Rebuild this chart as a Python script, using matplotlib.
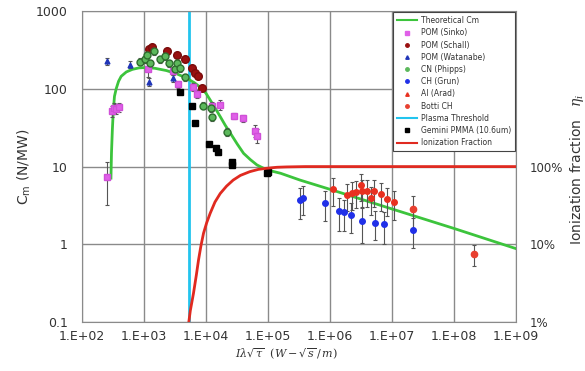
import numpy as np
import matplotlib
matplotlib.use("Agg")
import matplotlib.pyplot as plt
from matplotlib.lines import Line2D
from matplotlib.ticker import FixedLocator, NullLocator

# theoretical Cm curve
theory_x = [294, 300, 310, 320, 335, 357, 390, 430, 520, 650, 830, 1050, 1500, 2300,
            3400, 4900, 6500, 8100, 1.0e4, 1.17e4, 1.4e4, 1.7e4, 2.05e4, 2.47e4, 3.2e4,
            4.05e4, 5.2e4, 6.65e4, 8.3e4, 1.0e5, 1.6e5, 3.3e5, 1.0e6, 1.0e7, 1.0e8, 1.0e9]
theory_cm = [7.1, 15, 30, 50, 80, 100, 125, 145, 165, 178, 186, 188, 184, 172,
             156, 137, 120, 105, 88, 72, 57, 44, 34, 27, 19.5,
             14.8, 12.3, 10.5, 9.6, 9.0, 8.2, 6.7, 5.1, 2.85, 1.6, 0.88]

# ionization fraction (percent)
ion_x = [5300, 5600, 6300, 7000, 7600, 8300, 9150, 1.03e4, 1.17e4, 1.4e4, 1.7e4, 2.15e4,
         2.75e4, 3.6e4, 5.1e4, 7.0e4, 9.5e4, 1.4e5, 2.0e5, 4.0e5, 1.0e9]
ion_pct = [1.0, 1.4, 2.34, 4.0, 6.3, 9.5, 13.9, 19, 25, 35, 45, 56,
           67, 77, 86, 92, 95, 98, 99, 100, 100]

plasma_threshold = 5300

sinko_x = [253, 305, 330, 360, 395, 1180, 2900, 3600, 6100, 7200, 1.25e4, 1.7e4, 2.85e4, 4.0e4, 6.2e4, 6.6e4]
sinko_y = [7.4, 52, 56, 55, 58, 180, 172, 114, 107, 86, 60, 62, 45, 42, 29, 25]
sinko_err = [4.2, 9, 9, 8, 8, 40, 20, 12, 12, 10, 8, 9, 4, 4, 5, 5]

schall_x = [1190, 1350, 2350, 3400, 4600, 5900, 6600, 7500, 8600]
schall_y = [330, 345, 305, 273, 240, 186, 160, 148, 103]

watanabe_x = [253, 590, 1230, 3000]
watanabe_y = [225, 205, 124, 137]
watanabe_err = [25, 20, 15, 15]

phipps_x = [870, 1050, 1120, 1260, 1480, 1830, 2200, 2500, 3200, 3400, 3850, 4600, 9100, 1.22e4, 1.26e4, 2.2e4]
phipps_y = [224, 240, 273, 214, 305, 240, 262, 214, 178, 214, 186, 140, 61, 57, 43, 28]
phipps_err = [22, 24, 27, 21, 30, 24, 26, 21, 18, 21, 19, 14, 6, 6, 4, 3]

grun_x = [3.3e5, 3.65e5, 8.3e5, 1.4e6, 1.66e6, 2.2e6, 3.3e6, 5.4e6, 7.5e6, 2.2e7]
grun_y = [3.7, 4.0, 3.4, 2.7, 2.6, 2.4, 2.0, 1.9, 1.8, 1.55]
grun_err = [1.6, 1.6, 1.4, 1.2, 1.1, 1.0, 0.95, 0.75, 0.8, 0.65]

arad_x = [1.12e6, 1.88e6, 2.3e6, 2.65e6, 3.16e6, 3.3e6, 3.95e6, 4.64e6, 5.1e6, 6.6e6, 8.2e6, 1.09e7]
arad_y = [5.1, 4.3, 4.6, 4.75, 5.8, 4.9, 4.9, 3.9, 4.9, 4.4, 3.8, 3.47]
arad_err = [2.0, 1.6, 1.8, 1.8, 2.2, 1.9, 1.9, 1.5, 1.9, 1.7, 1.5, 1.4]

botti_x = [2.17e7, 2.1e8]
botti_y = [2.84, 0.75]
botti_err = [1.3, 0.23]

gemini_x = [3850, 5940, 6720, 1.13e4, 1.45e4, 1.55e4, 2.6e4, 2.65e4, 9.5e4, 1.0e5]
gemini_y = [90, 60, 36, 19.5, 17.5, 15.5, 11.5, 10.5, 8.3, 8.6]

x_ticks = [1e2, 1e3, 1e4, 1e5, 1e6, 1e7, 1e8, 1e9]
x_labels = ["1.E+02", "1.E+03", "1.E+04", "1.E+05", "1.E+06", "1.E+07", "1.E+08", "1.E+09"]
y_ticks = [0.1, 1, 10, 100, 1000]
y_labels = ["0.1", "1", "10", "100", "1000"]
r_ticks = [1, 10, 100]
r_labels = ["1%", "10%", "100%"]

plt.rcParams["mathtext.fontset"] = "dejavuserif"
txt = "#333333"

fig = plt.figure(figsize=(5.85, 3.71), dpi=100)
ax = fig.add_axes([0.140, 0.132, 0.742, 0.838])
ax.set_xscale("log")
ax.set_yscale("log")
ax.set_xlim(1e2, 1e9)
ax.set_ylim(0.1, 1000)
ax.xaxis.set_major_locator(FixedLocator(x_ticks))
ax.xaxis.set_minor_locator(NullLocator())
ax.yaxis.set_major_locator(FixedLocator(y_ticks))
ax.yaxis.set_minor_locator(NullLocator())
ax.set_xticklabels(x_labels)
ax.set_yticklabels(y_labels)
ax.tick_params(length=0, labelsize=9, colors=txt, pad=6)
ax.tick_params(axis="y", pad=10)
ax.grid(True, color="#8a8a8a", lw=1.0)
for s in ax.spines.values():
    s.set_color("#8a8a8a")

ax2 = ax.twinx()
ax2.set_yscale("log")
ax2.set_ylim(1, 10000)
ax2.yaxis.set_major_locator(FixedLocator(r_ticks))
ax2.yaxis.set_minor_locator(NullLocator())
ax2.set_yticklabels(r_labels)
ax2.tick_params(length=0, labelsize=8.5, colors=txt, pad=10)
for s in ax2.spines.values():
    s.set_visible(False)

ax.axvline(plasma_threshold, color="#22c4ee", lw=2, zorder=2)
ax2.plot(ion_x, ion_pct, color="#e02a20", lw=2, zorder=2)
ax.plot(theory_x, theory_cm, color="#3cc43c", lw=2, zorder=3)

ekw = dict(ecolor="#555555", elinewidth=0.8, capsize=1.5, capthick=0.8, ls="none", zorder=4)
ax.errorbar(sinko_x, sinko_y, yerr=sinko_err, fmt="s", ms=4, mfc="#e060e8", mec="#d050d8", **ekw)
ax.plot(schall_x, schall_y, "o", ms=5.5, mfc="#9a1010", mec="#7a0c0c", ls="none", zorder=4)
ax.errorbar(watanabe_x, watanabe_y, yerr=watanabe_err, fmt="^", ms=3.5, mfc="#2035b8", mec="#2035b8", **ekw)
ax.errorbar(phipps_x, phipps_y, yerr=phipps_err, fmt="o", ms=5, mfc="#5cb85c", mec="#2e6e2e", **ekw)
ax.errorbar(grun_x, grun_y, yerr=grun_err, fmt="o", ms=4, mfc="#2030e8", mec="#2030e8", **ekw)
ax.errorbar(arad_x, arad_y, yerr=arad_err, fmt="o", ms=4, mfc="#e83020", mec="#e83020", **ekw)
ax.errorbar(botti_x, botti_y, yerr=botti_err, fmt="o", ms=4.5, mfc="#e84030", mec="#e84030", **ekw)
ax.plot(gemini_x, gemini_y, "s", ms=4.5, color="black", ls="none", zorder=4)

handles = [
    Line2D([], [], color="#3cc43c", lw=1.5),
    Line2D([], [], marker="s", ms=2.5, color="#e060e8", ls="none"),
    Line2D([], [], marker="o", ms=2.5, color="#9a1010", ls="none"),
    Line2D([], [], marker="^", ms=2.5, color="#2035b8", ls="none"),
    Line2D([], [], marker="o", ms=2.5, color="#5cb85c", ls="none"),
    Line2D([], [], marker="o", ms=2.5, color="#2030e8", ls="none"),
    Line2D([], [], marker="^", ms=2.5, color="#e83020", ls="none"),
    Line2D([], [], marker="o", ms=2.5, color="#e84030", ls="none"),
    Line2D([], [], color="#22c4ee", lw=1.5),
    Line2D([], [], marker="s", ms=2.5, color="black", ls="none"),
    Line2D([], [], color="#e02a20", lw=1.5),
]
labels = ["Theoretical Cm", "POM (Sinko)", "POM (Schall)", "POM (Watanabe)", "CN (Phipps)",
          "CH (Grun)", "Al (Arad)", "Botti CH", "Plasma Threshold", "Gemini PMMA (10.6um)",
          "Ionization Fraction"]
leg = ax2.legend(handles, labels, loc="upper right", bbox_to_anchor=(1.0, 1.0),
                 borderaxespad=0.15, fontsize=5.5, labelspacing=0.42, handlelength=2.6,
                 handletextpad=0.5, borderpad=0.5, fancybox=False, framealpha=1,
                 edgecolor="#444444")
leg.get_frame().set_linewidth(0.8)
for t in leg.get_texts():
    t.set_color(txt)

ax.set_ylabel("C$_\\mathregular{m}$ (N/MW)", fontsize=10, color=txt)
ax.yaxis.set_label_coords(-0.112, 0.5)
fig.text(0.49, 0.045, r"$I\lambda\sqrt{\tau}\ \ (W-\sqrt{s}\,/\,m)$", fontsize=8,
         color=txt, ha="center", va="center", style="italic")
fig.text(0.987, 0.545, r"Ionization fraction   $\eta_i$", fontsize=10, color=txt,
         rotation=90, ha="center", va="center")

fig.savefig("out.png", dpi=100)
